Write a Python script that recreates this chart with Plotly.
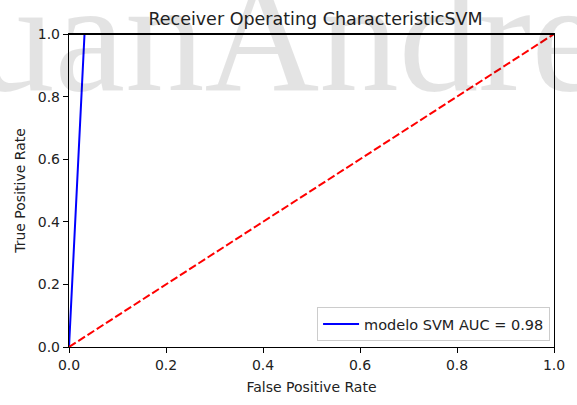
import plotly.graph_objects as go

# Data
fpr = [0.0, 0.032, 1.0]
tpr = [0.0, 1.0, 1.0]
diag_x = [0.0, 1.0]
diag_y = [0.0, 1.0]
auc_value = 0.98
model_name = "modelo SVM"
tick_vals = [0.0, 0.2, 0.4, 0.6, 0.8, 1.0]
tick_text = ["0.0", "0.2", "0.4", "0.6", "0.8", "1.0"]

W, H = 577, 405
L, R, T, B = 69, 15, 34, 53
pw, ph = W - L - R, H - T - B

FONT = "DejaVu Sans"

fig = go.Figure()
fig.add_trace(go.Scatter(
    x=fpr, y=tpr, mode="lines",
    line=dict(color="#0000ff", width=2),
    name=f"{model_name} AUC = {auc_value:.2f}",
))
fig.add_trace(go.Scatter(
    x=diag_x, y=diag_y, mode="lines",
    line=dict(color="#ff0000", width=2, dash="8px,3px"),
    showlegend=False,
))

axis_common = dict(
    range=[0, 1], tickvals=tick_vals, ticktext=tick_text,
    showgrid=False, zeroline=False,
    showline=True, linecolor="black", linewidth=1.4, mirror=True,
    ticks="outside", ticklen=5, tickwidth=1, tickcolor="black",
    tickfont=dict(family=FONT, size=14, color="#222"),
    layer="above traces",
)

fig.update_layout(
    width=W, height=H,
    margin=dict(l=L, r=R, t=T, b=B, pad=0),
    paper_bgcolor="white", plot_bgcolor="rgba(0,0,0,0)",
    title=dict(text="Receiver Operating CharacteristicSVM",
               x=(L + pw / 2) / W, xanchor="center",
               y=1 - 19 / H, yanchor="middle",
               font=dict(family=FONT, size=17.5, color="#222")),
    xaxis=dict(**axis_common,
               title=dict(text="False Positive Rate", standoff=10,
                          font=dict(family=FONT, size=14, color="#222"))),
    yaxis=dict(**axis_common,
               title=dict(text="True Positive Rate", standoff=8,
                          font=dict(family=FONT, size=14, color="#222"))),
    legend=dict(x=(558 - L) / pw, xanchor="right",
                y=(352 - 346) / ph, yanchor="bottom",
                bgcolor="white", bordercolor="#cccccc", borderwidth=1,
                itemwidth=36,
                font=dict(family=FONT, size=14.5, color="#222")),
    showlegend=True,
)

# top spine drawn above the traces (hides the clipped half of the curve, as in matplotlib)
fig.add_shape(type="line", xref="paper", yref="paper", x0=0, x1=1, y0=1, y1=1,
              line=dict(color="black", width=2.2), layer="above")

# watermark
fig.add_annotation(
    text="JuanAndres", xref="paper", yref="paper",
    x=(-92 - L) / pw, xanchor="left",
    y=(352 - 36) / ph, yanchor="middle",
    showarrow=False,
    font=dict(family="Liberation Serif", size=159, color="rgba(0,0,0,0.11)"),
)

fig.write_html("out.html")
